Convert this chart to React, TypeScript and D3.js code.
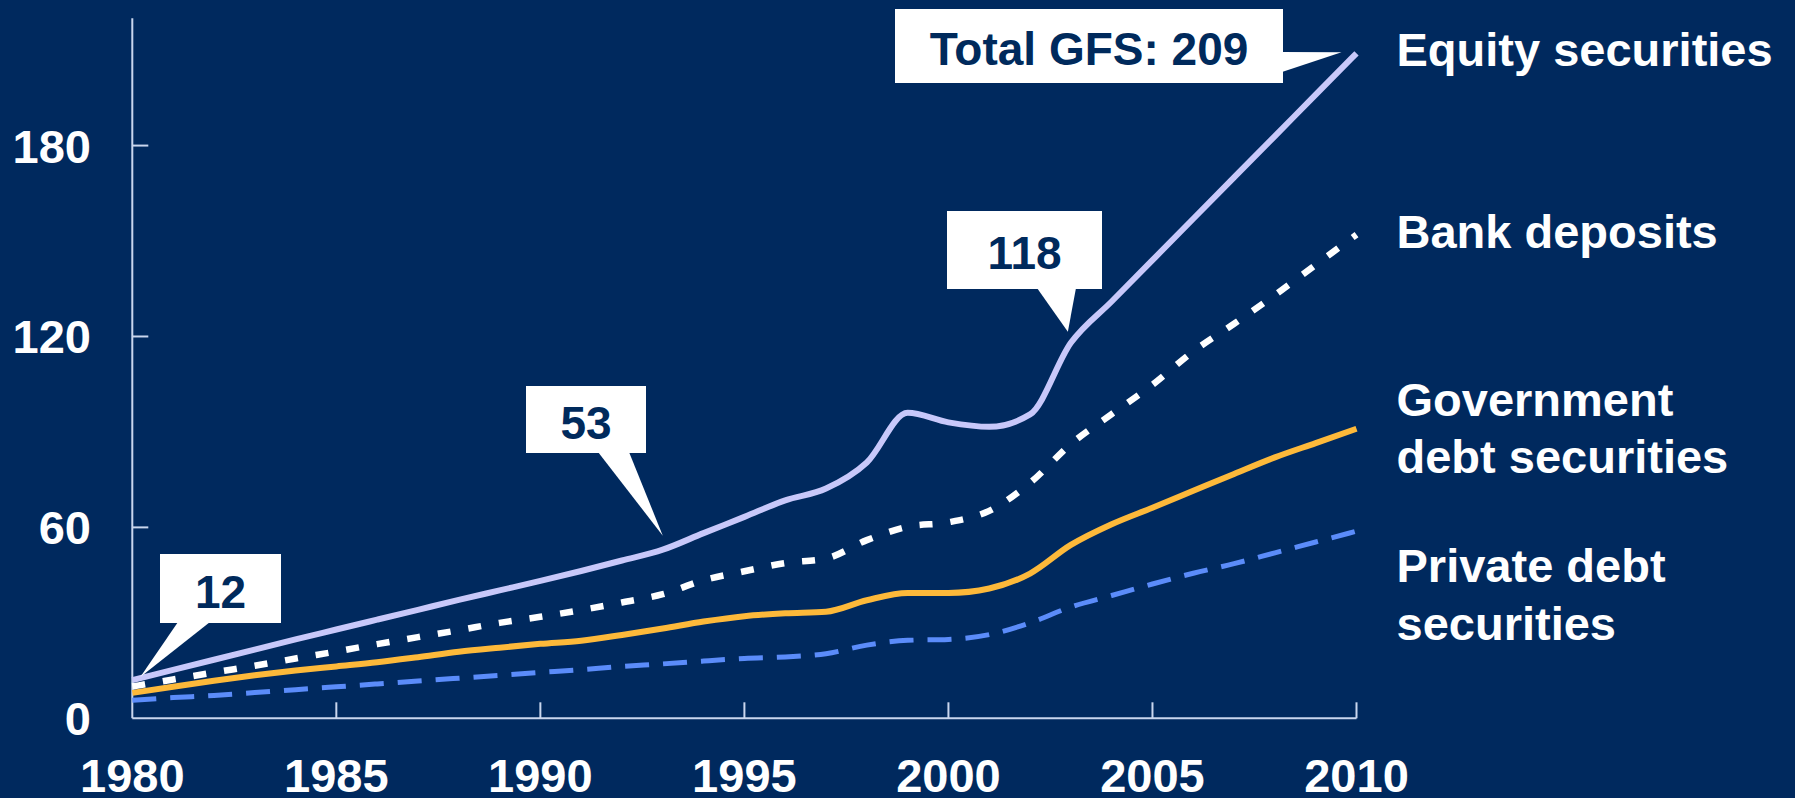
import * as d3 from "d3";

const years = d3.range(1980, 2011);

const equity = [
  12, 15.2, 18.4, 21.6, 24.8, 27.9, 31.0, 34.1, 37.2, 40.2, 43.2, 46.3, 49.6, 53.0, 58.2, 63.3,
  68.5, 72.2, 80.4, 96.0, 93.0, 91.6, 95.5, 118, 131, 144, 157, 170, 183, 196, 209,
];
const bankDeposits = [
  10, 12.2, 14.4, 16.5, 18.8, 21.0, 23.3, 25.5, 27.7, 30.0, 31.9, 34.0, 36.4, 39.0, 43.4, 46.2,
  48.8, 50.2, 56.0, 60.2, 61.6, 65.2, 74.0, 86.2, 95.6, 104.8, 115.3, 124, 133, 142.5, 152,
];
const govDebt = [
  8, 9.9, 11.8, 13.5, 15.0, 16.3, 17.6, 19.2, 20.9, 22.2, 23.4, 24.4, 26.2, 28.2, 30.4, 32.1,
  33.0, 33.5, 37.1, 39.4, 39.4, 40.8, 45.5, 54.5, 61.0, 66.2, 71.5, 76.8, 82.0, 86.5, 91.0,
];
const privateDebt = [
  5.7, 6.5, 7.2, 8.1, 9.0, 9.9, 10.8, 11.7, 12.6, 13.5, 14.4, 15.3, 16.3, 17.1, 18.0, 18.8,
  19.3, 20.3, 23.0, 24.5, 24.8, 26.3, 30.0, 35.0, 38.6, 42.2, 45.6, 48.6, 52.0, 55.4, 58.8,
];

const yTicks = [0, 60, 120, 180];
const xTicks = [1980, 1985, 1990, 1995, 2000, 2005, 2010];

// callouts: label and the point they refer to
const callouts = [
  { label: "12", year: 1980, value: 12 },
  { label: "53", year: 1993, value: 53 },
  { label: "118", year: 2003, value: 118 },
  { label: "Total GFS: 209", year: 2010, value: 209 },
];

const seriesNames = [
  ["Equity securities"],
  ["Bank deposits"],
  ["Government", "debt securities"],
  ["Private debt", "securities"],
];

const BG = "#00295E";
const NAVY = "#002A5C";
const FONT = "'Liberation Sans', Arial, Helvetica, sans-serif";

export default function App() {
  const width = 1795;
  const height = 798;

  const x = d3.scaleLinear().domain([1980, 2010]).range([132.3, 1356.5]);
  const y = d3.scaleLinear().domain([0, 220]).range([718.3, 18.3]);

  const line = d3
    .line<number>()
    .curve(d3.curveMonotoneX)
    .x((_, i) => x(years[i]))
    .y((d) => y(d));

  const series = [
    { values: privateDebt, color: "#5B8CFA", width: 5, dash: "24 14" },
    { values: govDebt, color: "#FDB93A", width: 6, dash: undefined },
    { values: bankDeposits, color: "#FFFFFF", width: 6.5, dash: "13 18" },
    { values: equity, color: "#C8C8FA", width: 6, dash: undefined },
  ];

  // box geometry for each callout, relative to the tip
  const boxes = [
    { tipDx: 8, tipDy: -3, x0: 160, x1: 281, y0: 554, y1: 623, b0: 178, b1: 210, side: "bottom" },
    { tipDx: 0, tipDy: -14, x0: 526, x1: 646, y0: 386, y1: 453, b0: 598, b1: 629, side: "bottom" },
    { tipDx: -3, tipDy: -11, x0: 947, x1: 1102, y0: 211, y1: 289, b0: 1037, b1: 1076, side: "bottom" },
    { tipDx: -15, tipDy: -1, x0: 895, x1: 1283, y0: 9, y1: 83, b0: 52, b1: 72, side: "right" },
  ];

  const labelLines = [[66], [248], [416, 473], [582, 640]];

  return (
    <div style={{ position: "fixed", left: 0, top: 0, width, height, background: BG }}>
      <svg width={width} height={height} style={{ display: "block" }} fontFamily={FONT}>
        <rect width={width} height={height} fill={BG} />

        {/* axes */}
        <line x1={x(1980)} x2={x(1980)} y1={y(220)} y2={y(0)} stroke="#C9D6EE" strokeWidth={2} />
        <line x1={x(1980)} x2={x(2010)} y1={y(0)} y2={y(0)} stroke="#C9D6EE" strokeWidth={2} />
        {yTicks
          .filter((t) => t > 0)
          .map((t) => (
            <line key={t} x1={x(1980)} x2={x(1980) + 16} y1={y(t)} y2={y(t)} stroke="#C9D6EE" strokeWidth={2} />
          ))}
        {xTicks
          .filter((t) => t > 1980)
          .map((t) => (
            <line key={t} x1={x(t)} x2={x(t)} y1={y(0)} y2={y(0) - 16} stroke="#C9D6EE" strokeWidth={2} />
          ))}
        {yTicks.map((t) => (
          <text
            key={t}
            x={91}
            y={y(t) + 17}
            textAnchor="end"
            fill="#FFFFFF"
            fontWeight="bold"
            fontSize={47}
          >
            {t}
          </text>
        ))}
        {xTicks.map((t) => (
          <text key={t} x={x(t)} y={792} textAnchor="middle" fill="#FFFFFF" fontWeight="bold" fontSize={47}>
            {t}
          </text>
        ))}

        {/* lines */}
        {series.map((s, i) => (
          <path
            key={i}
            d={line(s.values) ?? ""}
            fill="none"
            stroke={s.color}
            strokeWidth={s.width}
            strokeDasharray={s.dash}
            strokeLinejoin="round"
          />
        ))}

        {/* callouts */}
        {callouts.map((c, i) => {
          const b = boxes[i];
          const tx = x(c.year) + b.tipDx;
          const ty = y(c.value) + b.tipDy;
          const pointer =
            b.side === "bottom"
              ? `M${b.b0},${b.y1 - 1} L${b.b1},${b.y1 - 1} L${tx},${ty} Z`
              : `M${b.x1 - 1},${b.b0} L${tx},${ty} L${b.x1 - 1},${b.b1} Z`;
          return (
            <g key={c.label}>
              <rect x={b.x0} y={b.y0} width={b.x1 - b.x0} height={b.y1 - b.y0} fill="#FFFFFF" />
              <path d={pointer} fill="#FFFFFF" />
              <text
                x={(b.x0 + b.x1) / 2}
                y={(b.y0 + b.y1) / 2 + 19}
                textAnchor="middle"
                fill={NAVY}
                fontWeight="bold"
                fontSize={46}
              >
                {c.label}
              </text>
            </g>
          );
        })}

        {/* series labels */}
        {seriesNames.map((lines, i) => (
          <g key={i}>
            {lines.map((l, j) => (
              <text
                key={j}
                x={x(2010) + 40}
                y={labelLines[i][j]}
                fill="#FFFFFF"
                fontWeight="bold"
                fontSize={47}
              >
                {l}
              </text>
            ))}
          </g>
        ))}
      </svg>
    </div>
  );
}
